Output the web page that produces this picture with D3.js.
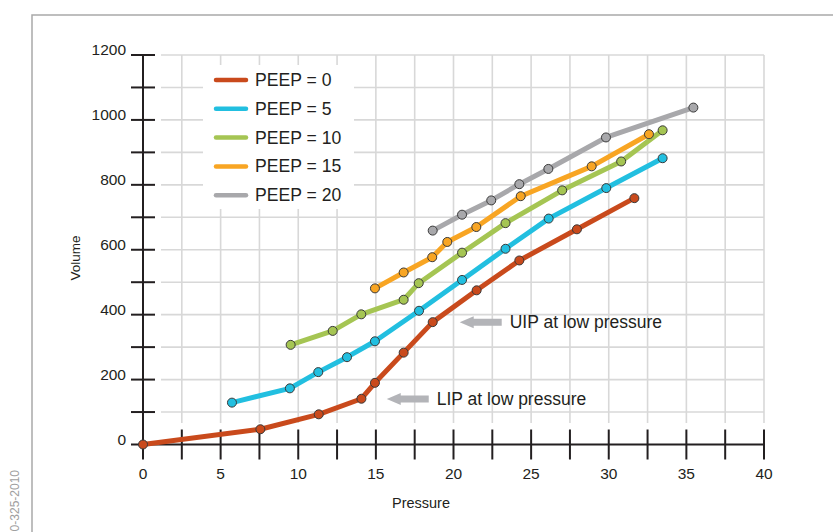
<!DOCTYPE html>
<html><head><meta charset="utf-8">
<script src="https://cdn.jsdelivr.net/npm/d3@7"></script>
<style>html,body{margin:0;padding:0;background:#fff;overflow:hidden}svg{display:block;font-family:"Liberation Sans",Arial,sans-serif}</style>
</head><body>
<svg id="c" width="833" height="532"></svg>
<script>
// ---- data ----
const seriesNames = ["PEEP = 0","PEEP = 5","PEEP = 10","PEEP = 15","PEEP = 20"];
const seriesColors = ["#c94a1c","#22bfe0","#a5c553","#f8a523","#a8a8ab"];
const peep0P = [0,7.56,11.32,14.07,14.94,16.79,18.66,21.49,24.24,27.95,31.65];
const peep0V = [0,47,93,141,190,283,377,475,567,663,759];
const peep5P = [5.73,9.46,11.29,13.14,14.94,17.78,20.55,23.35,26.13,29.84,33.47];
const peep5V = [129,173,223,269,318,412,507,603,696,790,882];
const peep10P = [9.51,12.22,14.06,16.79,17.76,20.55,23.35,27.0,30.8,33.47];
const peep10V = [307,350,401,446,497,591,682,783,872,968];
const peep15P = [14.94,16.79,18.63,19.6,21.47,24.33,28.9,32.59];
const peep15V = [481,530,577,624,670,765,857,956];
const peep20P = [18.66,20.55,22.43,24.24,26.11,29.82,35.45];
const peep20V = [659,708,752,802,849,946,1038];
const xTickLabels = [0,5,10,15,20,25,30,35,40];
const yTickLabels = [0,200,400,600,800,1000,1200];
const annotations = [
  {text:"UIP at low pressure", p:20.4, v:377},
  {text:"LIP at low pressure", p:15.7, v:140}
];

const seriesP = [peep0P,peep5P,peep10P,peep15P,peep20P];
const seriesV = [peep0V,peep5V,peep10V,peep15V,peep20V];
const series = seriesNames.map((n,i)=>({name:n,color:seriesColors[i],pts:seriesP[i].map((p,j)=>[p,seriesV[i][j]])}));

const svg = d3.select("#c");
const x = d3.scaleLinear().domain([0,40]).range([143,764]);
const y = d3.scaleLinear().domain([0,1200]).range([444.5,55]);
const ink = "#231f20", gridC = "#d8d8d8";

// frame
svg.append("path").attr("d","M32,540 V15 H840").attr("fill","none").attr("stroke","#a9a9a9").attr("stroke-width",1.5);
// side code
svg.append("text").attr("transform","translate(19,470) rotate(-90)").attr("text-anchor","end")
  .attr("font-size",12).attr("fill","#a0a0a0").text("0-325-2010");

// grid
const g = svg.append("g");
g.selectAll(".hg").data(d3.range(100,1201,100)).join("line")
  .attr("x1",161).attr("x2",x(40)).attr("y1",d=>y(d)).attr("y2",d=>y(d))
  .attr("stroke",gridC).attr("stroke-width",1.6);
g.selectAll(".vg").data(d3.range(2.5,40.1,2.5)).join("line")
  .attr("x1",d=>x(d)).attr("x2",d=>x(d)).attr("y1",y(1200)).attr("y2",423)
  .attr("stroke",gridC).attr("stroke-width",1.6);

// legend background
svg.append("rect").attr("x",203).attr("y",65).attr("width",151).attr("height",144).attr("fill","#fff");

// axes
const ax = svg.append("g");
ax.append("line").attr("x1",x(0)).attr("x2",x(0)).attr("y1",y(1200)).attr("y2",459.5).attr("stroke",ink).attr("stroke-width",2);
ax.append("line").attr("x1",131).attr("x2",x(40)).attr("y1",y(0)).attr("y2",y(0)).attr("stroke",ink).attr("stroke-width",2);
ax.selectAll(".yt").data(d3.range(100,1201,100)).join("line")
  .attr("x1",131).attr("x2",155).attr("y1",d=>y(d)).attr("y2",d=>y(d)).attr("stroke",ink).attr("stroke-width",2);
ax.selectAll(".xt").data(d3.range(2.5,40.1,2.5)).join("line")
  .attr("x1",d=>x(d)).attr("x2",d=>x(d)).attr("y1",y(0)-15).attr("y2",y(0)+15).attr("stroke",ink).attr("stroke-width",2);
ax.selectAll(".yl").data(yTickLabels).join("text")
  .attr("x",126).attr("y",d=>y(d)).attr("text-anchor","end").attr("font-size",15.5).attr("fill",ink).text(d=>d);
ax.selectAll(".xl").data(xTickLabels).join("text")
  .attr("x",d=>x(d)).attr("y",479).attr("text-anchor","middle").attr("font-size",15.5).attr("fill",ink).text(d=>d);
svg.append("text").attr("transform","translate(80,258) rotate(-90)").attr("text-anchor","middle")
  .attr("font-size",13.5).attr("fill",ink).text("Volume");
svg.append("text").attr("x",421).attr("y",508).attr("text-anchor","middle")
  .attr("font-size",14.5).attr("fill",ink).text("Pressure");

// lines
const line = d3.line().x(d=>x(d[0])).y(d=>y(d[1]));
const sg = svg.selectAll(".s").data(series).join("g");
sg.append("path").attr("d",d=>line(d.pts)).attr("fill","none").attr("stroke",d=>d.color)
  .attr("stroke-width",5).attr("stroke-linejoin","round").attr("stroke-linecap","round");
sg.selectAll("circle").data(d=>d.pts.map(p=>({p,c:d.color}))).join("circle")
  .attr("cx",d=>x(d.p[0])).attr("cy",d=>y(d.p[1])).attr("r",4.5)
  .attr("fill",d=>d.c).attr("stroke","#3a3a3a").attr("stroke-width",1);

// legend
const lg = svg.append("g");
series.forEach((s,i)=>{
  const yy = 80 + i*28.8;
  lg.append("line").attr("x1",216).attr("x2",246).attr("y1",yy).attr("y2",yy)
    .attr("stroke",s.color).attr("stroke-width",4.5).attr("stroke-linecap","round");
  lg.append("text").attr("x",255).attr("y",yy+6).attr("font-size",17.6).attr("fill",ink).text(s.name);
});

// annotations
annotations.forEach(a=>{
  const tx = x(a.p), ty = y(a.v);
  const ag = svg.append("g").attr("transform",`translate(${tx},${ty})`);
  ag.append("path").attr("d","M0,0 L14,-6 L14,-3.5 L42,-3.5 L42,3.5 L14,3.5 L14,6 Z").attr("fill","#b3b4b8");
  ag.append("text").attr("x",50).attr("y",6).attr("font-size",17.5).attr("fill",ink).text(a.text);
});
</script>
</body></html>
